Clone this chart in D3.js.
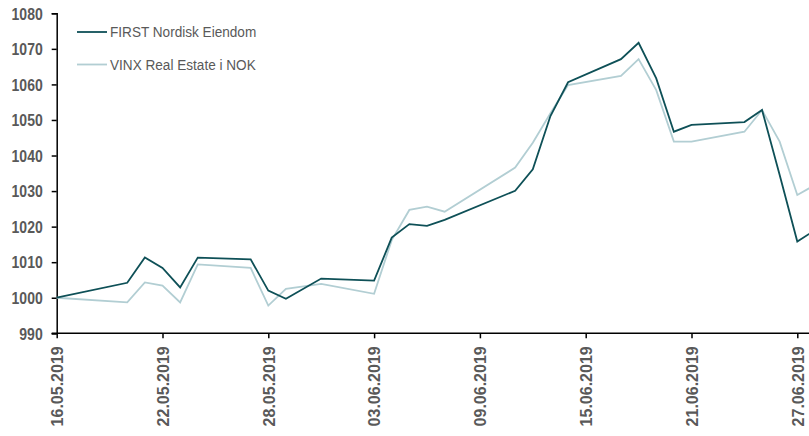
<!DOCTYPE html>
<html>
<head>
<meta charset="utf-8">
<script src="https://cdn.jsdelivr.net/npm/d3@7"></script>
<style>
  html, body { margin: 0; padding: 0; background: #fff; }
  svg { display: block; overflow: hidden; }
</style>
</head>
<body>
<svg id="chart" width="809" height="436"></svg>
<script>
const dates = ["16.05.2019","20.05.2019","21.05.2019","22.05.2019","23.05.2019","24.05.2019","27.05.2019","28.05.2019","29.05.2019","31.05.2019","03.06.2019","04.06.2019","05.06.2019","06.06.2019","07.06.2019","11.06.2019","12.06.2019","13.06.2019","14.06.2019","17.06.2019","18.06.2019","19.06.2019","20.06.2019","21.06.2019","24.06.2019","25.06.2019","26.06.2019","27.06.2019","28.06.2019"];
const firstNordisk = [1000.0,1004.2,1011.3,1008.4,1002.9,1011.3,1010.8,1002.0,999.7,1005.4,1004.8,1016.9,1020.7,1020.2,1021.9,1030.1,1036.1,1051.1,1060.6,1067.1,1071.7,1061.7,1046.7,1048.6,1049.4,1052.8,1034.5,1015.8,1019.0];
const vinx = [1000.0,998.7,1004.3,1003.4,998.7,1009.4,1008.4,997.8,1002.5,1003.9,1001.1,1016.2,1024.7,1025.6,1024.2,1036.6,1043.6,1051.9,1059.8,1062.4,1067.1,1058.4,1043.9,1043.9,1046.7,1052.8,1043.9,1028.9,1031.7];
const seriesNames = ["FIRST Nordisk Eiendom","VINX Real Estate i NOK"];
const xTickLabels = ["16.05.2019","22.05.2019","28.05.2019","03.06.2019","09.06.2019","15.06.2019","21.06.2019","27.06.2019"];
const yTicks = [990,1000,1010,1020,1030,1040,1050,1060,1070,1080];

const parse = d3.timeParse("%d.%m.%Y");
const fmt = d3.timeFormat("%d.%m.%Y");
const svg = d3.select("#chart");

const x = d3.scaleTime()
  .domain([parse("16.05.2019"), parse("27.06.2019")])
  .range([56.7, 797.3]);
const y = d3.scaleLinear().domain([990, 1080]).range([333.3, 13.3]);

const colors = ["#0e5057", "#b2ced3"];
const textColor = "#595959";
const font = "'Liberation Sans', Arial, sans-serif";

// Y axis
const yAxis = svg.append("g")
  .attr("transform", `translate(${x.range()[0]},0)`)
  .call(d3.axisLeft(y).tickValues(yTicks).tickSize(5).tickPadding(9).tickFormat(d3.format("d")));
yAxis.select(".domain").attr("stroke", "#000").attr("stroke-width", 1.5);
yAxis.selectAll(".tick line").attr("stroke", "#000").attr("stroke-width", 1.5);
yAxis.selectAll(".tick text")
  .attr("fill", textColor)
  .style("font-family", font)
  .style("font-weight", "bold")
  .style("font-size", "14px")
  .attr("x", 0).attr("dy", "0.36em")
  .attr("transform", "translate(-14,0) scale(1,1.15)");

// X axis
const xAxis = svg.append("g")
  .attr("transform", `translate(0,${y(990)})`)
  .call(d3.axisBottom(x).tickValues(xTickLabels.map(parse)).tickSize(5).tickSizeOuter(0).tickFormat(fmt));
xAxis.select(".domain").attr("stroke", "#000").attr("stroke-width", 1.5)
  .attr("d", `M${x.range()[0] - 5},0H809`);
xAxis.selectAll(".tick line").attr("stroke", "#000").attr("stroke-width", 1.5);
xAxis.selectAll(".tick text")
  .attr("fill", textColor)
  .style("font-family", font)
  .style("font-weight", "bold")
  .style("font-size", "16px")
  .attr("text-anchor", "end")
  .attr("transform", "translate(0,13) rotate(-90)")
  .attr("x", 0)
  .attr("y", 0)
  .attr("dy", "0.36em");

// Lines
const pts = (vals) => dates.map((d, i) => ({ date: parse(d), v: vals[i] }));
const line = d3.line().x(d => x(d.date)).y(d => y(d.v));

svg.append("path").datum(pts(vinx))
  .attr("fill", "none").attr("stroke", colors[1]).attr("stroke-width", 1.8)
  .attr("stroke-linejoin", "miter").attr("d", line);
svg.append("path").datum(pts(firstNordisk))
  .attr("fill", "none").attr("stroke", colors[0]).attr("stroke-width", 1.8)
  .attr("stroke-linejoin", "miter").attr("d", line);

// Legend
const legend = svg.append("g");
seriesNames.forEach((name, i) => {
  const ly = 32 + i * 32.5;
  legend.append("line")
    .attr("x1", 77).attr("x2", 107).attr("y1", ly).attr("y2", ly)
    .attr("stroke", colors[i]).attr("stroke-width", 1.8);
  legend.append("text")
    .attr("transform", `translate(110,${ly}) scale(1,1.1)`)
    .attr("dy", "0.36em")
    .attr("fill", textColor)
    .style("font-family", font)
    .style("font-size", "13.6px")
    .text(name);
});
</script>
</body>
</html>
